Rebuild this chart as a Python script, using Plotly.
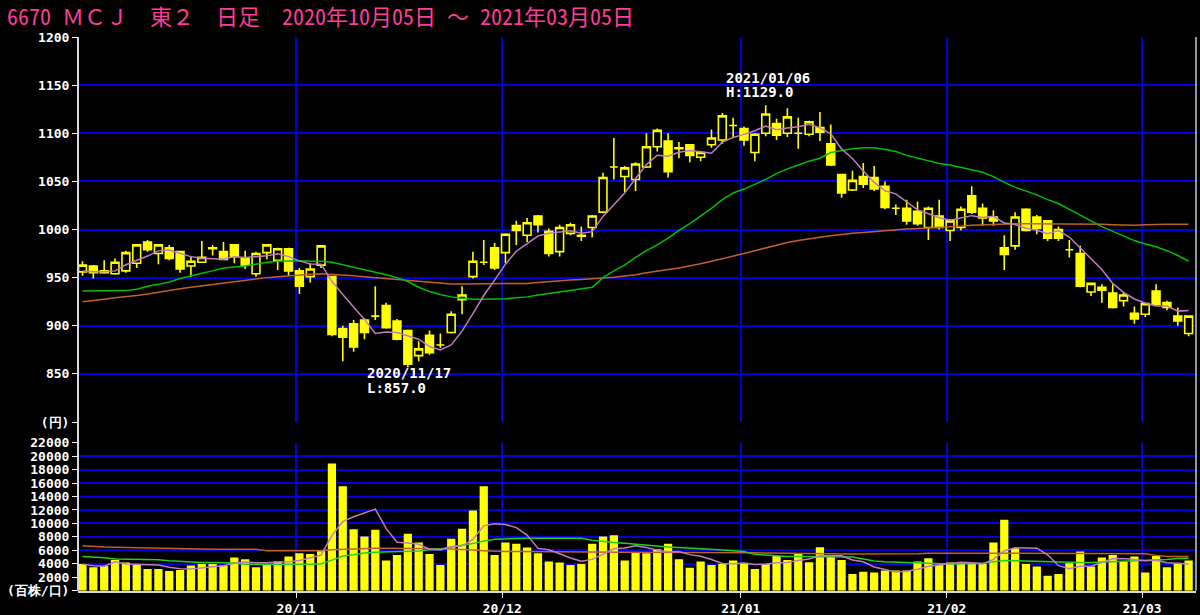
import plotly.graph_objects as go
import pandas as pd

# ---------------- data ----------------
holidays = ["2020-11-03", "2020-11-23", "2020-12-31", "2021-01-01",
            "2021-01-11", "2021-02-11", "2021-02-23"]
dates = [d for d in pd.bdate_range("2020-10-05", "2021-03-05").strftime("%Y-%m-%d")
         if d not in holidays]

opens = [956, 962, 955, 954, 957, 965, 987, 975, 981, 977, 962, 966, 981, 977, 984, 970, 954, 976, 968, 980,
         957, 951, 963, 951, 897, 902, 906, 910, 921, 905, 895, 869, 890, 880, 893, 927, 951, 966, 981, 976,
         1004, 994, 1014, 998, 977, 996, 994, 1002, 1018, 1065, 1055, 1052, 1065, 1086, 1092, 1085, 1088, 1075, 1088, 1093,
         1108, 1105, 1080, 1100, 1110, 1100, 1100, 1099, 1106, 1089, 1057, 1041, 1055, 1054, 1045, 1022, 1022, 1019, 1002, 1014,
         999, 1002, 1035, 1022, 1013, 981, 983, 1021, 1013, 1009, 1000, 979, 975, 935, 940, 934, 926, 913, 912, 936,
         924, 910, 892]
highs = [967, 963, 968, 970, 978, 985, 989, 985, 984, 978, 972, 988, 984, 987, 985, 978, 977, 985, 981, 981,
         960, 965, 984, 952, 900, 906, 908, 941, 924, 907, 896, 884, 895, 892, 915, 941, 977, 989, 986, 996,
         1009, 1012, 1015, 1001, 1005, 1007, 1003, 1015, 1059, 1095, 1066, 1070, 1100, 1105, 1100, 1091, 1088, 1081, 1104, 1121,
         1116, 1107, 1100, 1129, 1115, 1126, 1116, 1113, 1122, 1109, 1058, 1061, 1069, 1066, 1050, 1026, 1031, 1029, 1024, 1031,
         1011, 1024, 1045, 1027, 1020, 994, 1018, 1022, 1015, 1010, 1003, 989, 983, 945, 943, 943, 934, 920, 924, 943,
         926, 919, 911]
lows = [952, 949, 954, 953, 955, 960, 977, 964, 968, 955, 951, 966, 973, 968, 965, 959, 951, 969, 958, 952,
        933, 945, 960, 889, 863, 873, 886, 906, 897, 885, 857, 863, 870, 877, 892, 912, 949, 963, 958, 965,
        984, 987, 997, 972, 972, 994, 988, 992, 1017, 1052, 1039, 1040, 1064, 1081, 1054, 1074, 1070, 1071, 1085, 1089,
        1096, 1087, 1071, 1097, 1093, 1096, 1084, 1097, 1092, 1066, 1033, 1040, 1043, 1040, 1021, 1015, 1005, 1004, 989, 1000,
        988, 999, 1016, 1004, 1004, 958, 979, 998, 995, 988, 988, 971, 940, 931, 924, 918, 920, 902, 909, 921,
        916, 900, 889]
closes = [963, 955, 957, 966, 976, 984, 979, 984, 970, 959, 967, 971, 980, 969, 972, 963, 975, 984, 980, 957,
          941, 959, 983, 891, 888, 878, 893, 910, 898, 886, 860, 876, 872, 880, 912, 932, 967, 966, 960, 995,
          999, 1007, 1005, 975, 1002, 1005, 993, 1014, 1054, 1065, 1064, 1068, 1086, 1103, 1060, 1084, 1077, 1080, 1095, 1118,
          1108, 1093, 1099, 1120, 1098, 1117, 1100, 1112, 1101, 1067, 1038, 1051, 1047, 1042, 1023, 1022, 1009, 1006, 1022, 1002,
          1009, 1021, 1018, 1012, 1009, 974, 1013, 999, 1001, 991, 991, 979, 941, 944, 937, 919, 932, 907, 923, 922,
          919, 905, 910]

ma5 = [957, 956, 956, 957, 963.4, 967.6, 972.4, 977.8, 978.6, 975.2, 971.8, 970.2, 969.4, 969.2, 971.8, 971, 971.8, 972.6, 974.8, 971.8,
       967.4, 964.2, 964, 946.2, 932.4, 919.8, 906.6, 892, 893.4, 893, 889.4, 886, 878.4, 874.8, 880, 894.4, 912.6, 931.4, 947.4, 964,
       977.4, 985.4, 993.2, 996.2, 997.6, 998.8, 996, 997.8, 1013.6, 1026.2, 1038, 1053, 1067.4, 1077.2, 1076.2, 1080.2, 1082, 1080.8, 1079.2, 1090.8,
       1095.6, 1098.8, 1102.6, 1107.6, 1103.6, 1105.4, 1106.8, 1109.4, 1105.6, 1099.4, 1083.6, 1073.8, 1060.8, 1049, 1040.2, 1037, 1028.6, 1020.4, 1016.4, 1012.2,
       1009.6, 1012, 1014.4, 1012.4, 1013.8, 1006.8, 1005.2, 1001.4, 999.2, 995.6, 999, 992.2, 980.6, 969.2, 958.4, 944, 934.6, 927.8, 923.6, 920.6,
       920.6, 915.2, 915.8]
ma25 = [936, 936, 936, 936, 936.5, 938, 941, 943, 945.5, 949, 952, 954.5, 957, 960, 961, 962, 964, 966, 967, 967.5,
        967.5, 967, 967, 966, 963.5, 961, 958, 955.5, 953, 950, 946, 940, 935.5, 932.5, 930, 928.5, 927.5, 927.5, 927.5, 928,
        929, 930, 932, 933.5, 935, 936.5, 938, 940, 950, 957, 963, 971, 978, 984, 991, 999, 1006, 1014, 1022, 1031,
        1038, 1042, 1047, 1052, 1058, 1063, 1067, 1071, 1074, 1080, 1082, 1084, 1085, 1085, 1083, 1081, 1077, 1074, 1071, 1068.5,
        1067, 1064.5, 1062, 1059.5, 1055, 1049, 1044, 1040, 1036, 1031, 1027, 1021, 1015, 1009, 1003, 998, 993, 988.5, 985, 982,
        978, 973, 967]
ma75 = [925, 926, 927.5, 929, 930, 931.5, 933, 935, 937, 938.5, 940, 941.5, 943, 944.5, 946, 947.5, 949, 950, 951, 952,
        953, 953.5, 954, 953.5, 953, 952, 951, 950, 949, 948, 947, 946, 945, 944, 943.5, 943.5, 943.5, 943.5, 943.5, 943.5,
        943.5, 944, 945, 946, 947, 947.5, 948, 948.5, 949.5, 950.5, 951.5, 953, 955, 957, 958.5, 960, 962, 964.5, 967, 969.5,
        972, 975, 978, 981, 984, 986.5, 988.5, 990.5, 992, 993.5, 995, 996, 997, 998, 999, 999.5, 1000.5, 1001, 1001.5, 1002.5,
        1003, 1003.5, 1004.5, 1005, 1005.5, 1006, 1006, 1006, 1006, 1006, 1006, 1006, 1006, 1005.5, 1005.5, 1005, 1004.5, 1004.5, 1005, 1005.5,
        1005.5, 1005.5, 1005.5]

volume = [3980, 3480, 3680, 4580, 4180, 3830, 3230, 3230, 2935, 3085, 3730, 3980, 3980, 3730, 4925, 4680, 3480, 3980, 4330, 5075,
          5570, 5470, 5970, 18900, 15520, 9150, 8060, 9055, 4480, 5320, 8460, 7160, 5470, 3830, 7710, 9200, 11940, 15520, 5320, 7160,
          6965, 6420, 5570, 4330, 4180, 3830, 3980, 6965, 8060, 8260, 4480, 5670, 5570, 6170, 6965, 4680, 3430, 4330, 3830, 3980,
          4480, 3980, 3230, 3980, 5170, 4580, 5570, 4230, 6470, 5075, 4580, 2490, 2835, 2690, 2985, 2985, 2985, 4330, 4830, 3830,
          4180, 3980, 3980, 3980, 7160, 10550, 6320, 3980, 3580, 2240, 2490, 4080, 5820, 3580, 4925, 5320, 4330, 5075, 2690, 5170,
          3480, 3980, 4480]
vma5 = [3950, 3700, 3650, 4300, 3980, 3950, 3900, 3810, 3481, 3262, 3242, 3392, 3542, 3701, 4069, 4259, 4159, 4159, 4279, 4309,
        4487, 4885, 5283, 8197, 10286, 11002, 11520, 12137, 9253, 7213, 7075, 6895, 6178, 6048, 6526, 6674, 7630, 9640, 9938, 9828,
        9381, 8277, 6287, 6089, 5493, 4866, 4378, 4657, 5403, 6219, 6349, 6687, 6408, 6030, 5771, 5811, 5363, 5115, 4647, 4050,
        4010, 4120, 3900, 3930, 4168, 4188, 4506, 4706, 5204, 5185, 5185, 4569, 4290, 3534, 3116, 2797, 2896, 3195, 3623, 3792,
        4031, 4230, 4160, 3990, 4656, 5930, 6398, 6398, 6318, 5334, 3722, 3274, 3642, 3642, 4179, 4745, 4795, 4646, 4468, 4517,
        4149, 4079, 3958]
vma25 = [5070, 5000, 4900, 4700, 4680, 4680, 4680, 4600, 4450, 4330, 4200, 4180, 4180, 4180, 4100, 3950, 3930, 3930, 3930, 3950,
         3950, 3950, 4000, 4550, 5150, 5350, 5600, 5700, 5750, 5800, 5820, 5900, 6070, 6200, 6500, 6700, 7000, 7400, 7650, 7700,
         7800, 7810, 7810, 7810, 7810, 7810, 7800, 7500, 7300, 7150, 7050, 6900, 6700, 6600, 6500, 6420, 6350, 6250, 6170, 6050,
         5950, 5820, 5400, 5300, 5100, 5075, 5075, 5075, 5075, 5075, 5075, 5000, 4700, 4400, 4300, 4250, 4100, 4050, 4000, 3980,
         3980, 4000, 4050, 4080, 4300, 4480, 4450, 4400, 4330, 4300, 4250, 4200, 4180, 4200, 4250, 4330, 4350, 4400, 4480, 4550,
         4650, 4780, 4830]
vma75 = [6700, 6550, 6500, 6450, 6420, 6400, 6350, 6300, 6200, 6170, 6170, 6170, 6170, 6170, 6170, 6170, 6170, 5920, 5920, 5920,
         5920, 5920, 5920, 6100, 6170, 6250, 6300, 6320, 6320, 6320, 6320, 6320, 6300, 6250, 6200, 6170, 6050, 5950, 5850, 5820,
         5820, 5800, 5800, 5790, 5780, 5770, 5760, 5750, 5740, 5730, 5720, 5720, 5720, 5720, 5720, 5720, 5720, 5720, 5720, 5720,
         5720, 5700, 5650, 5600, 5600, 5570, 5570, 5550, 5500, 5500, 5450, 5450, 5420, 5420, 5420, 5420, 5450, 5500, 5550, 5570,
         5570, 5570, 5570, 5570, 5570, 5570, 5570, 5570, 5570, 5570, 5570, 5570, 5570, 5570, 5570, 5570, 5570, 5570, 5500, 5250,
         5100, 5075, 5075]

price_ticks = [800, 850, 900, 950, 1000, 1050, 1100, 1150, 1200]
price_labels = ["(円)", "850", "900", "950", "1000", "1050", "1100", "1150", "1200"]
vol_ticks = [0, 2000, 4000, 6000, 8000, 10000, 12000, 14000, 16000, 18000, 20000, 22000]
vol_labels = ["(百株/口)"] + [str(v) for v in vol_ticks[1:]]

title_text = "6670 ＭＣＪ　東２　日足　2020年10月05日 ～ 2021年03月05日"
hi_date, hi_lines = "2021-01-06", ["2021/01/06", "H:1129.0"]
lo_date, lo_lines = "2020-11-17", ["2020/11/17", "L:857.0"]

# ---------------- derived positions ----------------
n = len(dates)
xs = list(range(n))
month_idx = [i for i in range(1, n) if dates[i][5:7] != dates[i - 1][5:7]]
month_pos = [i - 0.3 for i in month_idx]
month_txt = [dates[i][2:4] + "/" + dates[i][5:7] for i in month_idx]

W, H = 1200, 615
L_PX, R_PX = 78, 1196
MAIN_TOP, MAIN_BOT = 37, 422
VOL_TOP, VOL_BOT = 442.7, 590.7

YEL = "#FFFF00"
GRID = "#0000E0"
PINK = "#C07CC0"
GREEN = "#00C000"
BROWN = "#C0602C"
MONO = "DejaVu Sans Mono"

fig = go.Figure()

fig.add_trace(go.Candlestick(
    x=xs, open=opens, high=highs, low=lows, close=closes,
    increasing=dict(line=dict(color=YEL, width=1.6), fillcolor="#000000"),
    decreasing=dict(line=dict(color=YEL, width=1.6), fillcolor=YEL),
    whiskerwidth=0, xaxis="x", yaxis="y", hoverinfo="skip"))

for ys, col in [(ma75, BROWN), (ma25, GREEN), (ma5, PINK)]:
    fig.add_trace(go.Scatter(x=xs, y=ys, mode="lines", line=dict(color=col, width=1.5),
                             xaxis="x", yaxis="y", hoverinfo="skip"))

fig.add_trace(go.Bar(x=xs, y=volume, marker=dict(color=YEL, line=dict(width=0)), width=0.76,
                     xaxis="x2", yaxis="y2", hoverinfo="skip"))
for ys, col in [(vma75, BROWN), (vma25, "#20D020"), (vma5, PINK)]:
    fig.add_trace(go.Scatter(x=xs, y=ys, mode="lines", line=dict(color=col, width=1.5),
                             xaxis="x2", yaxis="y2", hoverinfo="skip"))

xr = [-0.415, 102.68]
tickfont = dict(family=MONO, size=13, color="#FFFFFF", weight="bold")
xdom = [L_PX / W, R_PX / W]

fig.update_layout(
    width=W, height=H, margin=dict(l=0, r=0, t=0, b=0),
    paper_bgcolor="#000000", plot_bgcolor="#000000", showlegend=False,
    boxgap=0.15, boxgroupgap=0.15,
    xaxis=dict(domain=xdom, range=xr, tickvals=month_pos, ticktext=month_txt,
               showticklabels=False, showgrid=True, gridcolor=GRID, gridwidth=1.5,
               zeroline=False, rangeslider=dict(visible=False), anchor="y",
               automargin=False, ticks=""),
    yaxis=dict(domain=[1 - MAIN_BOT / H, 1 - MAIN_TOP / H], range=[800, 1200],
               tickvals=price_ticks, ticktext=price_labels, tickfont=tickfont,
               showgrid=True, gridcolor=GRID, gridwidth=1.5, zeroline=False,
               ticks="outside", ticklen=5, tickcolor="#FFFFFF", anchor="x",
               automargin=False),
    xaxis2=dict(domain=xdom, range=xr, tickvals=month_pos, ticktext=month_txt,
                tickfont=tickfont, showgrid=True, gridcolor=GRID, gridwidth=1.5,
                zeroline=False, ticks="outside", ticklen=5, tickcolor="#FFFFFF",
                showline=True, linecolor="#D8D8D8", linewidth=2, anchor="y2",
                automargin=False),
    yaxis2=dict(domain=[1 - VOL_BOT / H, 1 - VOL_TOP / H], range=[0, 22000],
                tickvals=vol_ticks, ticktext=vol_labels, tickfont=tickfont,
                showgrid=True, gridcolor=GRID, gridwidth=1.5, zeroline=False,
                ticks="outside", ticklen=5, tickcolor="#FFFFFF", anchor="x2",
                automargin=False),
)

# frame lines
fig.add_shape(type="line", xref="paper", yref="paper", x0=L_PX / W, x1=L_PX / W,
              y0=1 - VOL_BOT / H, y1=1 - MAIN_TOP / H, line=dict(color="#D8D8D8", width=2))
fig.add_shape(type="line", xref="paper", yref="paper", x0=R_PX / W, x1=R_PX / W,
              y0=1 - VOL_BOT / H, y1=1 - MAIN_TOP / H, line=dict(color="#C8C8C8", width=1.5))

# title
fig.add_annotation(text=title_text, xref="paper", yref="paper", x=5 / W, y=1 - 15 / H,
                   xanchor="left", yanchor="middle", showarrow=False,
                   font=dict(family="Noto Sans Mono CJK JP, Noto Sans CJK JP", size=22, color="#FF3C9A"))

# high / low annotations
afont = dict(family=MONO, size=14, color="#FFFFFF", weight="bold")
hi_i = dates.index(hi_date)
lo_i = dates.index(lo_date)
for txt, dy in zip(hi_lines, [27, 13]):
    fig.add_annotation(text=txt, x=hi_i, y=highs[hi_i], xref="x", yref="y",
                       xanchor="left", yanchor="middle", xshift=-42, yshift=dy,
                       showarrow=False, font=afont)
for txt, dy in zip(lo_lines, [-5.5, -20.5]):
    fig.add_annotation(text=txt, x=lo_i, y=lows[lo_i], xref="x", yref="y",
                       xanchor="left", yanchor="middle", xshift=-43, yshift=dy,
                       showarrow=False, font=afont)

fig.write_html("out.html", config={"displayModeBar": False},
               post_script="document.body.style.margin='0';document.body.style.background='#000';"
                           "document.documentElement.style.overflow='hidden';")
